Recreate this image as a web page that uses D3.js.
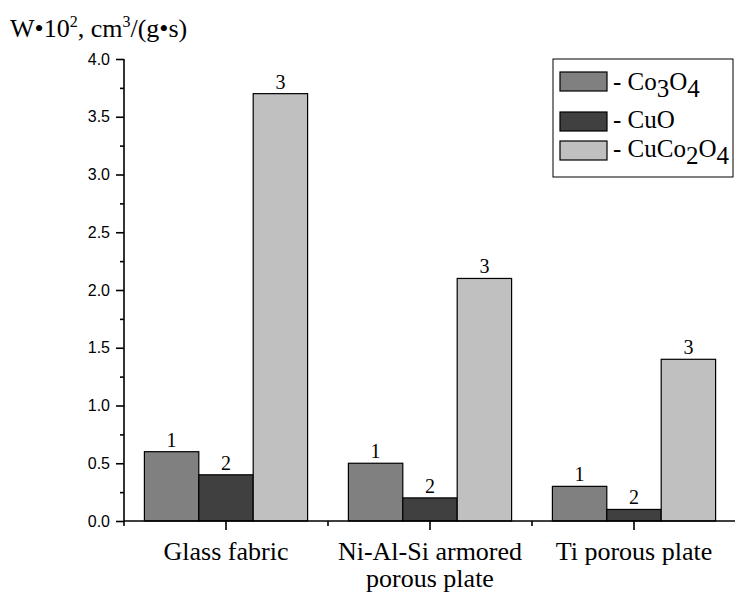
<!DOCTYPE html>
<html>
<head>
<meta charset="utf-8">
<script src="https://cdn.jsdelivr.net/npm/d3@7"></script>
<style>
  html, body { margin: 0; padding: 0; background: #fff; }
  svg { display: block; }
</style>
</head>
<body>
<svg id="chart" width="735" height="594"></svg>
<script>
// ---- data ----
const categories = ["Glass fabric", "Ni-Al-Si armored porous plate", "Ti porous plate"];
const categoryLines = [["Glass fabric"], ["Ni-Al-Si armored", "porous plate"], ["Ti porous plate"]];
const seriesNames = ["Co3O4", "CuO", "CuCo2O4"];
const seriesLabels = ["1", "2", "3"];
const seriesColors = ["#808080", "#404040", "#c0c0c0"];
const co3o4 = [0.6, 0.5, 0.3];
const cuo = [0.4, 0.2, 0.1];
const cuco2o4 = [3.7, 2.1, 1.4];
const yTicks = [0, 0.5, 1.0, 1.5, 2.0, 2.5, 3.0, 3.5, 4.0];
const yMinorTicks = [0.25, 0.75, 1.25, 1.75, 2.25, 2.75, 3.25, 3.75];

const seriesValues = [co3o4, cuo, cuco2o4];

const svg = d3.select("#chart");
const mLeft = 124, mRight = 736, mTop = 59, mBottom = 521;
const serif = "'Liberation Serif', 'Times New Roman', serif";
const sans = "'Liberation Sans', Arial, sans-serif";

const x = d3.scaleBand().domain(categories).range([mLeft, mRight]).padding(0);
const bw = x.bandwidth();
const x1 = d3.scaleBand().domain(seriesNames).range([bw * 0.1, bw * 0.9]).padding(0);
const y = d3.scaleLinear().domain([0, 4]).range([mBottom, mTop]);

// bars
const data = [];
categories.forEach((c, ci) => {
  seriesNames.forEach((s, si) => {
    data.push({cat: c, ser: s, si, v: seriesValues[si][ci]});
  });
});

const g = svg.append("g");
g.selectAll("rect.bar").data(data).enter().append("rect")
  .attr("class", "bar")
  .attr("x", d => x(d.cat) + x1(d.ser))
  .attr("y", d => y(d.v))
  .attr("width", x1.bandwidth())
  .attr("height", d => y(0) - y(d.v))
  .attr("fill", d => seriesColors[d.si])
  .attr("stroke", "#000")
  .attr("stroke-width", 1.2);

g.selectAll("text.blabel").data(data).enter().append("text")
  .attr("class", "blabel")
  .attr("x", d => x(d.cat) + x1(d.ser) + x1.bandwidth() / 2)
  .attr("y", d => y(d.v) - 5)
  .attr("text-anchor", "middle")
  .attr("font-family", serif)
  .attr("font-size", 20)
  .text(d => seriesLabels[d.si]);

// y axis
const yAxis = d3.axisLeft(y).tickValues(yTicks).tickFormat(d3.format(".1f")).tickSize(8).tickPadding(6);
const ya = svg.append("g").attr("transform", `translate(${mLeft},0)`).call(yAxis);
ya.select(".domain").attr("stroke-width", 1.6).attr("d", `M0,${mBottom}V${mTop}`);
ya.selectAll(".tick line").attr("stroke-width", 1.6);
ya.selectAll(".tick text").attr("font-family", sans).attr("font-size", 16).attr("fill", "#000");
const yMinor = d3.axisLeft(y).tickValues(yMinorTicks).tickSize(4).tickFormat("");
const yam = svg.append("g").attr("transform", `translate(${mLeft},0)`).call(yMinor);
yam.select(".domain").remove();
yam.selectAll(".tick line").attr("stroke-width", 1.6);

// x axis
const xAxis = d3.axisBottom(x).tickSize(9).tickFormat("");
const xa = svg.append("g").attr("transform", `translate(0,${mBottom})`).call(xAxis);
xa.select(".domain").attr("stroke-width", 1.6).attr("d", `M${mLeft},0H${mRight}`);
xa.selectAll(".tick line").attr("stroke-width", 1.6);
// minor ticks at band boundaries
const boundaries = categories.map(c => x(c));
xa.selectAll("line.minor").data(boundaries).enter().append("line")
  .attr("class", "minor")
  .attr("x1", d => d).attr("x2", d => d)
  .attr("y1", 0).attr("y2", 5)
  .attr("stroke", "#000").attr("stroke-width", 1.6);

// category labels (one text element per line)
categories.forEach((c, ci) => {
  categoryLines[ci].forEach((line, li) => {
    svg.append("text")
      .attr("x", x(c) + bw / 2)
      .attr("y", 560 + li * 27)
      .attr("text-anchor", "middle")
      .attr("font-family", serif)
      .attr("font-size", 26)
      .attr("fill", "#000")
      .text(line);
  });
});

// y axis title
const yt = svg.append("text").attr("x", 10).attr("y", 37)
  .attr("font-family", serif).attr("font-size", 26).attr("fill", "#000");
yt.append("tspan").text("W•10");
yt.append("tspan").attr("font-size", 16).attr("dy", -10).text("2");
yt.append("tspan").attr("dy", 10).text(", cm");
yt.append("tspan").attr("font-size", 16).attr("dy", -10).text("3");
yt.append("tspan").attr("dy", 10).text("/(g•s)");

// legend
const lg = svg.append("g");
lg.append("rect").attr("x", 553).attr("y", 59).attr("width", 180).attr("height", 118)
  .attr("fill", "#fff").attr("stroke", "#000").attr("stroke-width", 1);
const swY = [72, 112, 141];
const txtY = [90, 128, 157];
const legendParts = [
  [["- Co", 0], ["3", 1], ["O", 0], ["4", 1]],
  [["- CuO", 0]],
  [["- CuCo", 0], ["2", 1], ["O", 0], ["4", 1]]
];
seriesNames.forEach((s, i) => {
  lg.append("rect").attr("x", 560).attr("y", swY[i]).attr("width", 47).attr("height", 19)
    .attr("fill", seriesColors[i]).attr("stroke", "#000").attr("stroke-width", 1.2);
  const t = lg.append("text").attr("x", 613).attr("y", txtY[i])
    .attr("font-family", serif).attr("font-size", 25).attr("fill", "#000");
  let cur = 0;
  legendParts[i].forEach(([str, sub]) => {
    const shift = sub ? 7 : 0;
    t.append("tspan").attr("dy", shift - cur).text(str);
    cur = shift;
  });
});
</script>
</body>
</html>
